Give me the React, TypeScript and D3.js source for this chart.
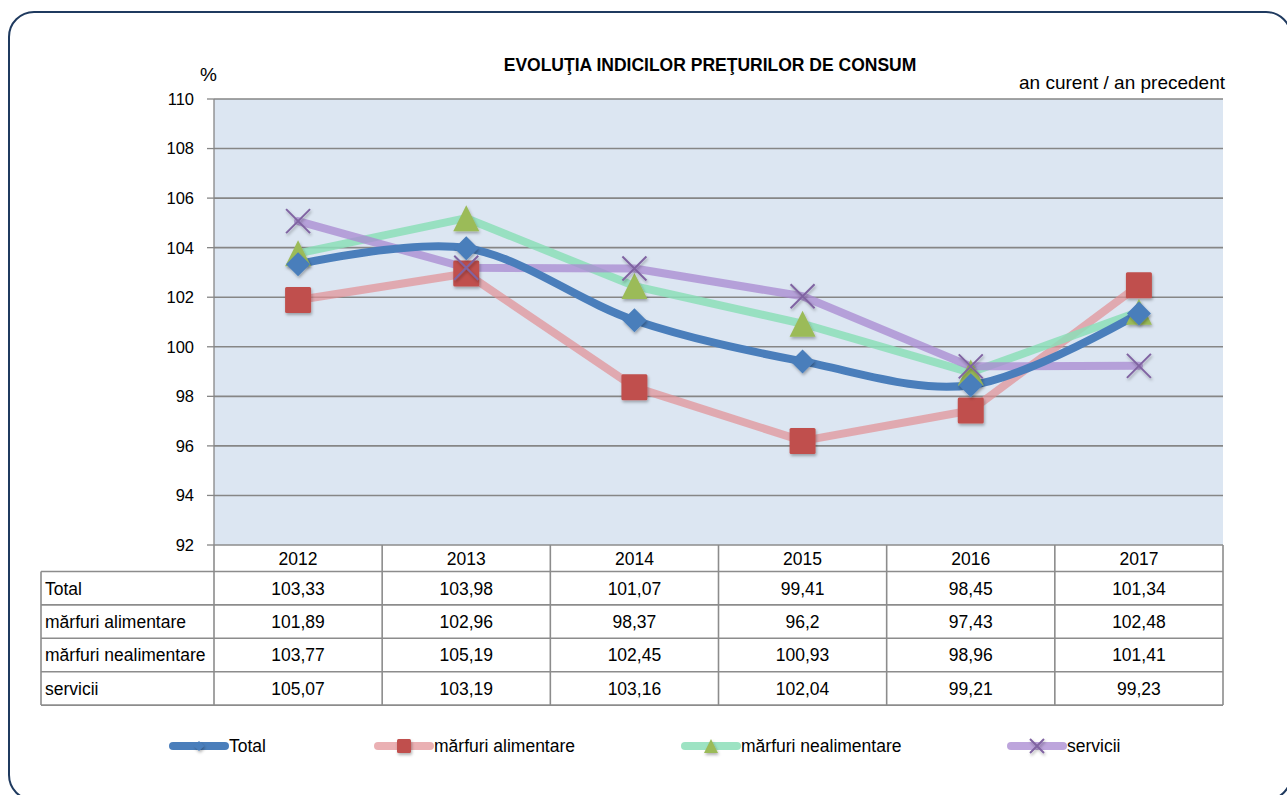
import React from "react";
import * as d3 from "d3";

const years = ["2012", "2013", "2014", "2015", "2016", "2017"];
const totalValues = [103.33, 103.98, 101.07, 99.41, 98.45, 101.34];
const alimentareValues = [101.89, 102.96, 98.37, 96.2, 97.43, 102.48];
const nealimentareValues = [103.77, 105.19, 102.45, 100.93, 98.96, 101.41];
const serviciiValues = [105.07, 103.19, 103.16, 102.04, 99.21, 99.23];
const seriesNames = ["Total", "mărfuri alimentare", "mărfuri nealimentare", "servicii"];
const yTicks = [92, 94, 96, 98, 100, 102, 104, 106, 108, 110];

const W = 1287;
const H = 795;
const plot = { left: 214, right: 1223, top: 99, bottom: 545 };
const FONT = "'Liberation Sans', Arial, sans-serif";
const TF = 17.5;

type Series = {
  name: string;
  values: number[];
  line: string;
  marker: string;
  shape: "diamond" | "square" | "triangle" | "x";
  smooth: boolean;
};

const series: Series[] = [
  { name: seriesNames[1], values: alimentareValues, line: "rgba(226,146,150,0.72)", marker: "#c0504d", shape: "square", smooth: false },
  { name: seriesNames[2], values: nealimentareValues, line: "rgba(140,222,185,0.85)", marker: "#9bbb59", shape: "triangle", smooth: false },
  { name: seriesNames[3], values: serviciiValues, line: "rgba(170,140,210,0.78)", marker: "#8064a2", shape: "x", smooth: false },
  { name: seriesNames[0], values: totalValues, line: "#4a7ebb", marker: "#4a7ebb", shape: "diamond", smooth: true },
];

const fmt = (v: number) => String(v).replace(".", ",");

function Marker({ shape, x, y, color, s }: { shape: string; x: number; y: number; color: string; s: number }) {
  if (shape === "square") {
    return <rect x={x - s} y={y - s} width={2 * s} height={2 * s} rx={1.5} fill={color} filter="url(#shadow)" />;
  }
  if (shape === "diamond") {
    return <path d={`M${x},${y - s}L${x + s},${y}L${x},${y + s}L${x - s},${y}Z`} fill={color} filter="url(#shadow)" />;
  }
  if (shape === "triangle") {
    return <path d={`M${x},${y - s}L${x + s},${y + s}L${x - s},${y + s}Z`} fill={color} filter="url(#shadow)" />;
  }
  return (
    <path d={`M${x - s},${y - s}L${x + s},${y + s}M${x - s},${y + s}L${x + s},${y - s}`} stroke={color} strokeWidth={2} fill="none" filter="url(#shadow)" />
  );
}

export default function App() {
  const x = d3.scaleBand<string>().domain(years).range([plot.left, plot.right]);
  const y = d3.scaleLinear().domain([92, 110]).range([plot.bottom, plot.top]);
  const cx = (yr: string) => (x(yr) as number) + x.bandwidth() / 2;

  const rowH = 33.4;
  const headerBottom = 571.5;
  const tableLeft = 41;
  const rowOrder = [
    { name: seriesNames[0], values: totalValues },
    { name: seriesNames[1], values: alimentareValues },
    { name: seriesNames[2], values: nealimentareValues },
    { name: seriesNames[3], values: serviciiValues },
  ];
  const tableBottom = headerBottom + rowH * rowOrder.length;

  const legendItems = [
    { s: series[3], x0: 170 },
    { s: series[0], x0: 375 },
    { s: series[1], x0: 682 },
    { s: series[2], x0: 1008 },
  ];

  return (
    <svg width={W} height={H} style={{ position: "absolute", left: 0, top: 0, background: "#fff" }} fontFamily={FONT}>
      <defs>
        <filter id="shadow" x="-50%" y="-50%" width="200%" height="200%">
          <feDropShadow dx="1" dy="2" stdDeviation="1.5" floodColor="#000" floodOpacity="0.3" />
        </filter>
      </defs>
      <rect x={9} y={12} width={1282} height={788} rx={25} fill="#fff" stroke="#1f3a5f" strokeWidth={2} />

      {/* plot area */}
      <rect x={plot.left} y={plot.top} width={plot.right - plot.left} height={plot.bottom - plot.top} fill="#dce6f2" />
      {yTicks.map((t) => (
        <g key={t}>
          {t !== 92 && <line x1={plot.left} x2={plot.right} y1={y(t)} y2={y(t)} stroke="#868686" strokeWidth={1.6} />}
          <line x1={plot.left - 7} x2={plot.left} y1={y(t)} y2={y(t)} stroke="#868686" strokeWidth={1.3} />
          <text x={194} y={y(t)} dy="0.36em" textAnchor="end" fontSize={16.5} fill="#000">{t}</text>
        </g>
      ))}
      <line x1={plot.left} x2={plot.left} y1={plot.top} y2={plot.bottom} stroke="#868686" strokeWidth={1.3} />
      <text x={200} y={81} fontSize={19} fill="#000">%</text>

      <text x={710} y={71} textAnchor="middle" fontSize={17.5} fontWeight="bold" fill="#000">EVOLUŢIA INDICILOR PREŢURILOR DE CONSUM</text>
      <text x={1225} y={89} textAnchor="end" fontSize={19} fill="#000">an curent / an precedent</text>

      {/* lines */}
      {series.map((s) => {
        const gen = d3
          .line<number>()
          .x((_, i) => cx(years[i]))
          .y((v) => y(v))
          .curve(s.smooth ? d3.curveCatmullRom.alpha(0.5) : d3.curveLinear);
        return (
          <path key={s.name} d={gen(s.values) || ""} fill="none" stroke={s.line} strokeWidth={8} strokeLinejoin="round" strokeLinecap="round" />
        );
      })}
      {/* markers */}
      {series.map((s) => (
        <g key={s.name + "m"}>
          {s.values.map((v, i) => (
            <Marker key={i} shape={s.shape} x={cx(years[i])} y={y(v)} color={s.marker} s={s.shape === "diamond" ? 12 : s.shape === "x" ? 12 : 13} />
          ))}
        </g>
      ))}

      {/* data table */}
      <g stroke="#8c8c8c" strokeWidth={1.6} fill="none">
        <line x1={plot.left} x2={plot.right} y1={plot.bottom} y2={plot.bottom} />
        {d3.range(years.length + 1).map((i) => {
          const xx = plot.left + i * x.bandwidth();
          return <line key={i} x1={xx} x2={xx} y1={plot.bottom} y2={tableBottom} />;
        })}
        <line x1={tableLeft} x2={tableLeft} y1={headerBottom} y2={tableBottom} />
        {d3.range(rowOrder.length + 1).map((i) => (
          <line key={i} x1={tableLeft} x2={plot.right} y1={headerBottom + i * rowH} y2={headerBottom + i * rowH} />
        ))}
      </g>
      {years.map((yr) => (
        <text key={yr} x={cx(yr)} y={(plot.bottom + headerBottom) / 2} dy="0.36em" textAnchor="middle" fontSize={TF} fill="#000">{yr}</text>
      ))}
      {rowOrder.map((r, ri) => {
        const yc = headerBottom + ri * rowH + rowH / 2;
        return (
          <g key={r.name}>
            <text x={tableLeft + 4} y={yc} dy="0.36em" fontSize={TF} fill="#000">{r.name}</text>
            {r.values.map((v, i) => (
              <text key={i} x={cx(years[i])} y={yc} dy="0.36em" textAnchor="middle" fontSize={TF} fill="#000">{fmt(v)}</text>
            ))}
          </g>
        );
      })}

      {/* legend */}
      {legendItems.map(({ s, x0 }) => {
        const ly = 746;
        return (
          <g key={s.name + "leg"}>
            <line x1={x0 + 3} x2={x0 + 55} y1={ly} y2={ly} stroke={s.line} strokeWidth={8} strokeLinecap="round" />
            <Marker shape={s.shape} x={x0 + 29} y={ly} color={s.marker} s={s.shape === "diamond" ? 5 : 7} />
            <text x={x0 + 59} y={ly} dy="0.36em" fontSize={TF} fill="#000">{s.name}</text>
          </g>
        );
      })}
    </svg>
  );
}
